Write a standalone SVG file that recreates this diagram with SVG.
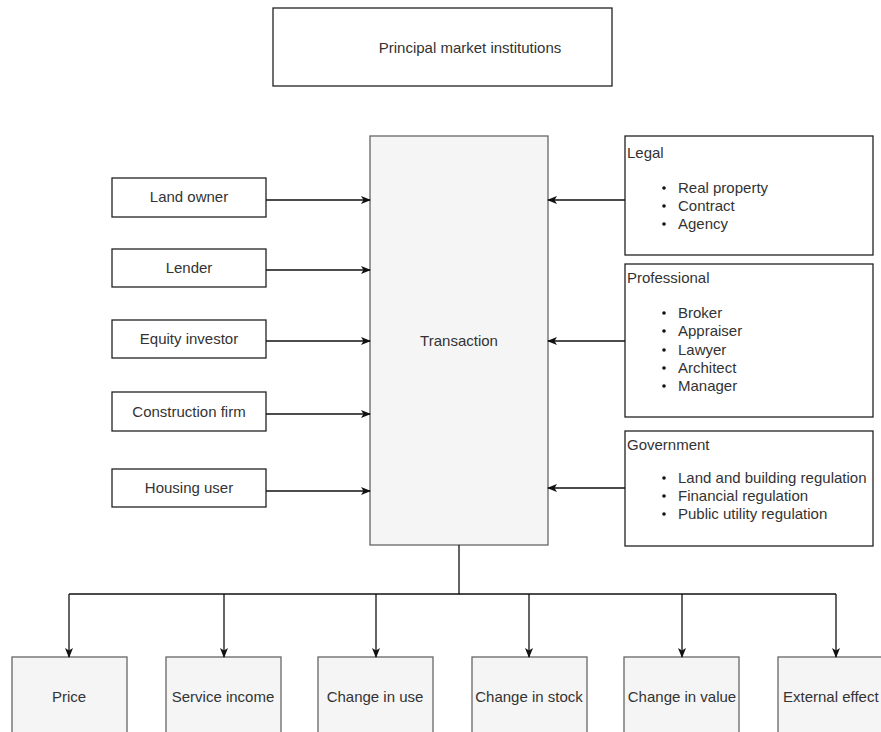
<svg xmlns="http://www.w3.org/2000/svg" width="881" height="732" viewBox="0 0 881 732">
  <style>
    text { font-family: "Liberation Sans", Arial, sans-serif; font-size: 15px; fill: #333; }
    .box { fill: #ffffff; stroke: #222; stroke-width: 1.3; }
    .grey { fill: #f5f5f5; stroke: #666; stroke-width: 1.3; }
    .c { text-anchor: middle; dominant-baseline: central; }
    .dot { fill: #111; }
    .edge { fill: none; stroke: #111; stroke-width: 1.3; }
  </style>
  <defs>
    <marker id="arrow" viewBox="0 0 10 10" refX="9" refY="5" markerWidth="10" markerHeight="10" markerUnits="userSpaceOnUse" orient="auto">
      <path d="M0,1 L10,5 L0,9 L2.5,5 Z" fill="#111"/>
    </marker>
  </defs>

  <rect width="881" height="732" fill="#ffffff"/>

  <g id="institutions">
    <rect class="box" x="273" y="8" width="339" height="78"/>
    <text class="c" x="470" y="47">Principal market institutions</text>
  </g>

  <g id="transaction">
    <rect class="grey" x="370" y="136" width="178" height="409"/>
    <text class="c" x="459" y="340">Transaction</text>
  </g>

  <g id="land-owner">
    <rect class="box" x="112" y="178" width="154" height="39"/>
    <text class="c" x="189" y="196">Land owner</text>
  </g>
  <g id="lender">
    <rect class="box" x="112" y="249" width="154" height="38"/>
    <text class="c" x="189" y="267">Lender</text>
  </g>
  <g id="equity-investor">
    <rect class="box" x="112" y="320" width="154" height="38"/>
    <text class="c" x="189" y="338">Equity investor</text>
  </g>
  <g id="construction-firm">
    <rect class="box" x="112" y="392" width="154" height="39"/>
    <text class="c" x="189" y="411">Construction firm</text>
  </g>
  <g id="housing-user">
    <rect class="box" x="112" y="469" width="154" height="38"/>
    <text class="c" x="189" y="487">Housing user</text>
  </g>

  <g id="legal">
    <rect class="box" x="625" y="136" width="248" height="119"/>
    <text x="627" y="158">Legal</text>
    <circle class="dot" cx="664" cy="188" r="1.8"/><text x="678" y="193">Real property</text>
    <circle class="dot" cx="664" cy="206" r="1.8"/><text x="678" y="211">Contract</text>
    <circle class="dot" cx="664" cy="224" r="1.8"/><text x="678" y="229">Agency</text>
  </g>

  <g id="professional">
    <rect class="box" x="625" y="264" width="248" height="153"/>
    <text x="627" y="283">Professional</text>
    <circle class="dot" cx="664" cy="313" r="1.8"/><text x="678" y="318">Broker</text>
    <circle class="dot" cx="664" cy="331" r="1.8"/><text x="678" y="336">Appraiser</text>
    <circle class="dot" cx="664" cy="350" r="1.8"/><text x="678" y="355">Lawyer</text>
    <circle class="dot" cx="664" cy="368" r="1.8"/><text x="678" y="373">Architect</text>
    <circle class="dot" cx="664" cy="386" r="1.8"/><text x="678" y="391">Manager</text>
  </g>

  <g id="government">
    <rect class="box" x="625" y="431" width="248" height="115"/>
    <text x="627" y="450">Government</text>
    <circle class="dot" cx="664" cy="478" r="1.8"/><text x="678" y="483">Land and building regulation</text>
    <circle class="dot" cx="664" cy="496" r="1.8"/><text x="678" y="501">Financial regulation</text>
    <circle class="dot" cx="664" cy="514" r="1.8"/><text x="678" y="519">Public utility regulation</text>
  </g>

  <g id="price">
    <rect class="grey" x="12" y="657" width="115" height="90"/>
    <text class="c" x="69" y="696">Price</text>
  </g>
  <g id="service-income">
    <rect class="grey" x="166" y="657" width="115" height="90"/>
    <text class="c" x="223" y="696">Service income</text>
  </g>
  <g id="change-in-use">
    <rect class="grey" x="318" y="657" width="115" height="90"/>
    <text class="c" x="375" y="696">Change in use</text>
  </g>
  <g id="change-in-stock">
    <rect class="grey" x="472" y="657" width="115" height="90"/>
    <text class="c" x="529" y="696">Change in stock</text>
  </g>
  <g id="change-in-value">
    <rect class="grey" x="624" y="657" width="115" height="90"/>
    <text class="c" x="682" y="696">Change in value</text>
  </g>
  <g id="external-effect">
    <rect class="grey" x="778" y="657" width="115" height="90"/>
    <text x="783" y="696" dominant-baseline="central">External effect</text>
  </g>

  <g id="connectors">
    <path class="edge" d="M266,200 H370" marker-end="url(#arrow)"/>
    <path class="edge" d="M266,270 H370" marker-end="url(#arrow)"/>
    <path class="edge" d="M266,341 H370" marker-end="url(#arrow)"/>
    <path class="edge" d="M266,414 H370" marker-end="url(#arrow)"/>
    <path class="edge" d="M266,491 H370" marker-end="url(#arrow)"/>

    <path class="edge" d="M625,200 H548" marker-end="url(#arrow)"/>
    <path class="edge" d="M625,341 H548" marker-end="url(#arrow)"/>
    <path class="edge" d="M625,488 H548" marker-end="url(#arrow)"/>

    <path class="edge" d="M459,545 V594 H69"/>
    <path class="edge" d="M459,594 H836"/>
    <path class="edge" d="M69,594 V657" marker-end="url(#arrow)"/>
    <path class="edge" d="M224,594 V657" marker-end="url(#arrow)"/>
    <path class="edge" d="M376,594 V657" marker-end="url(#arrow)"/>
    <path class="edge" d="M529,594 V657" marker-end="url(#arrow)"/>
    <path class="edge" d="M682,594 V657" marker-end="url(#arrow)"/>
    <path class="edge" d="M836,594 V657" marker-end="url(#arrow)"/>
  </g>
</svg>
